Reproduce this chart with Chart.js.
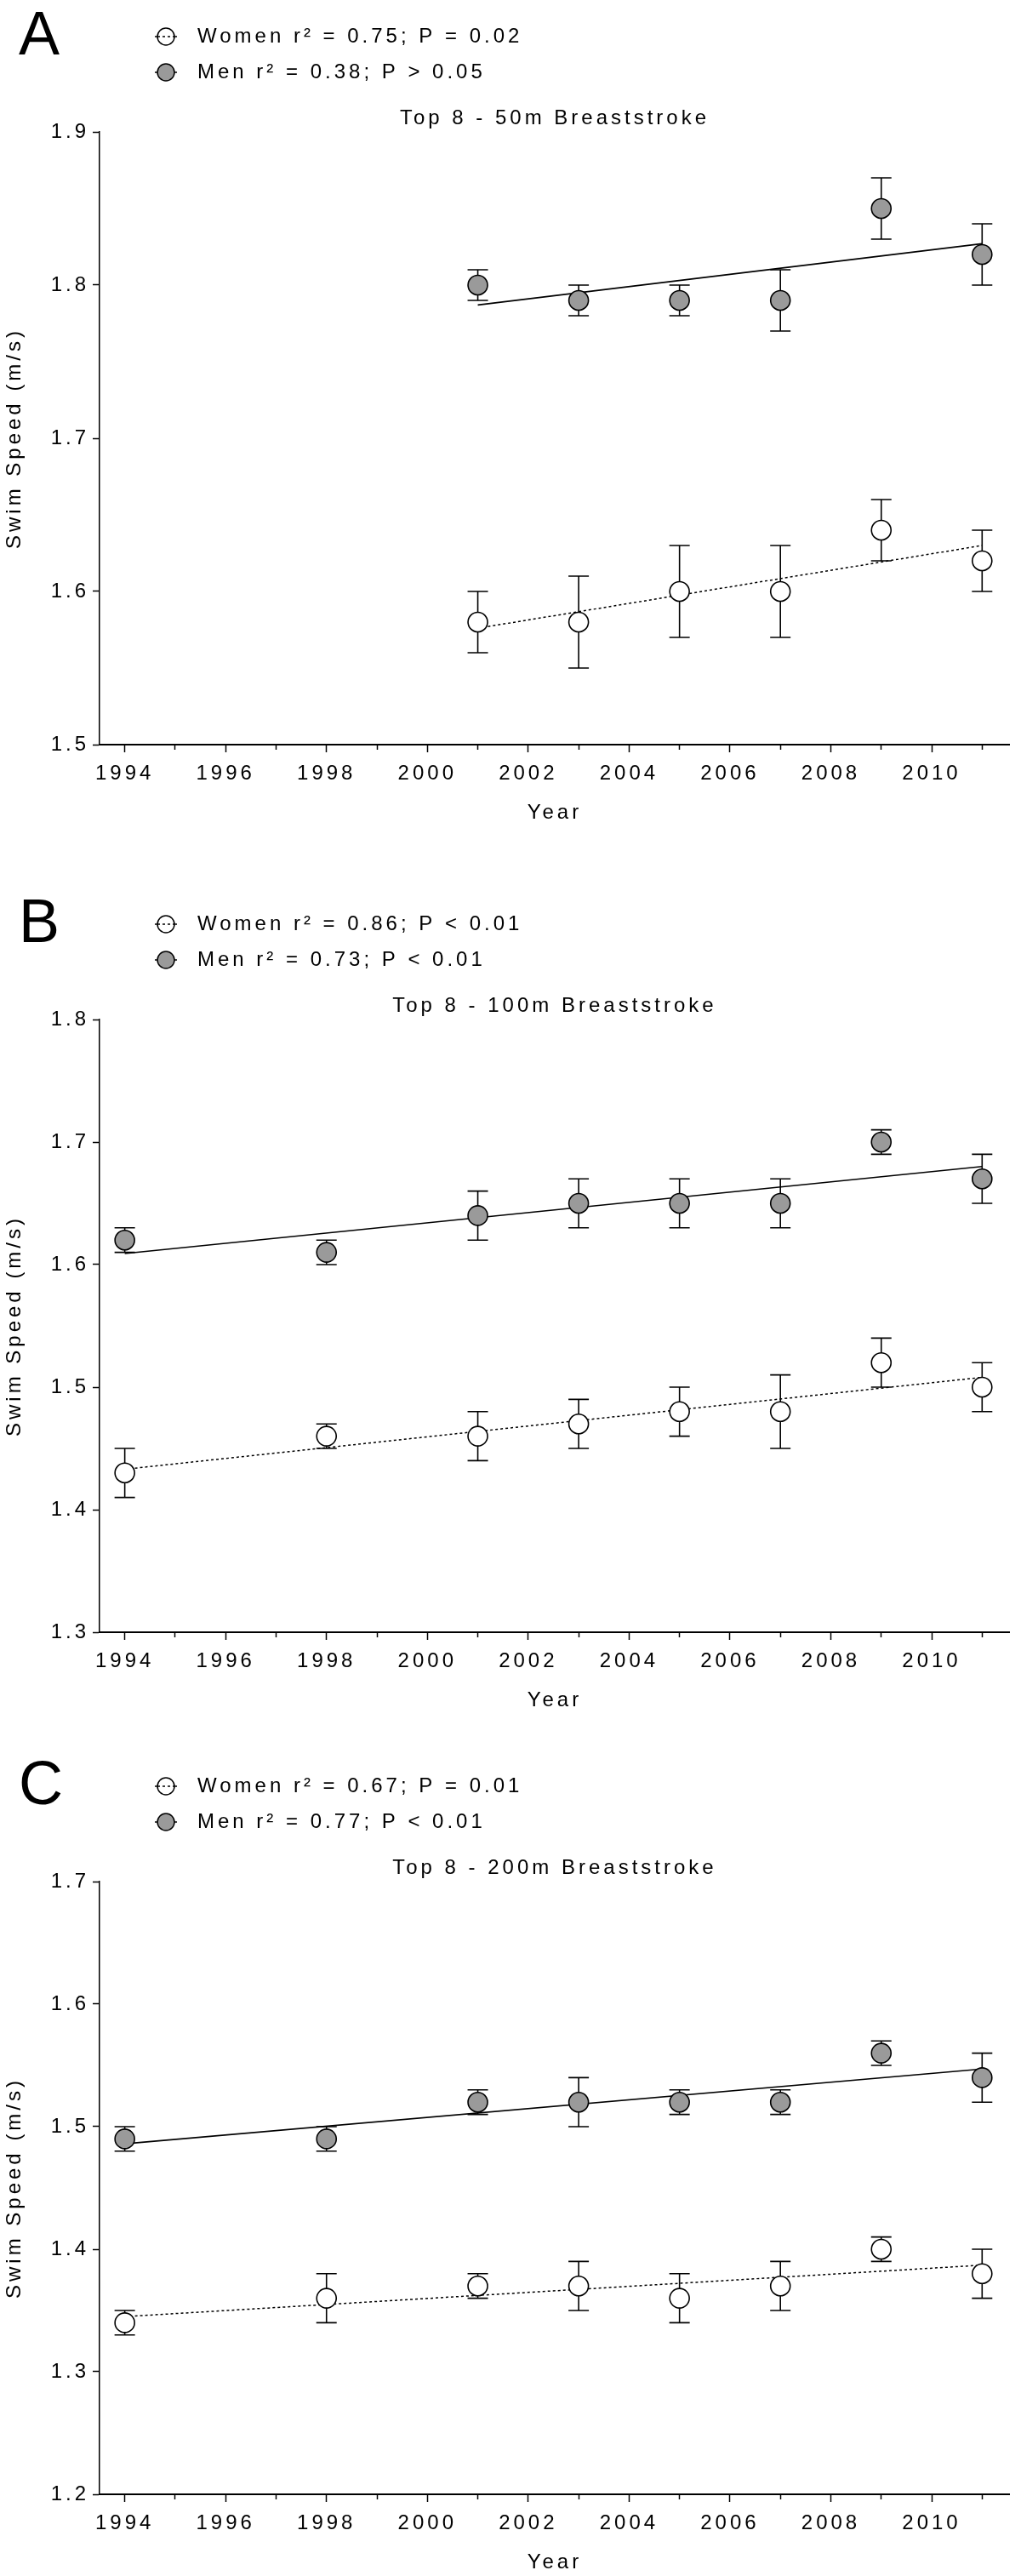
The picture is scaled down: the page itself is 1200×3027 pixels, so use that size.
<!DOCTYPE html>
<html>
<head>
<meta charset="utf-8">
<script src="https://cdn.jsdelivr.net/npm/chart.js@4.4.1/dist/chart.umd.min.js"></script>
<style>
html,body{margin:0;padding:0;background:#fff;}
#wrap{position:relative;width:1200px;height:3027px;background:#fff;}
canvas{position:absolute;left:0;}
</style>
</head>
<body>
<div id="wrap">
<canvas id="cA" width="1200" height="1015" style="top:0px"></canvas>
<canvas id="cB" width="1200" height="1015" style="top:1015px"></canvas>
<canvas id="cC" width="1200" height="997" style="top:2030px"></canvas>
</div>
<script>
// ---------- data ----------
const xTickYears = [1994,1995,1996,1997,1998,1999,2000,2001,2002,2003,2004,2005,2006,2007,2008,2009,2010,2011];

// Panel A: 50m breaststroke
const yearsA = [2001, 2003, 2005, 2007, 2009, 2011];
const menA = [1.80, 1.79, 1.79, 1.79, 1.85, 1.82];
const menSdA = [0.01, 0.01, 0.01, 0.02, 0.02, 0.02];
const womenA = [1.58, 1.58, 1.60, 1.60, 1.64, 1.62];
const womenSdA = [0.02, 0.03, 0.03, 0.03, 0.02, 0.02];
const menFitYearsA = [2001, 2011];
const menFitA = [1.787, 1.827];
const womenFitYearsA = [2001, 2011];
const womenFitA = [1.576, 1.630];
const yTicksA = [1.5, 1.6, 1.7, 1.8, 1.9];
const legendA = ['Women r\u00B2 = 0.75; P = 0.02', 'Men r\u00B2 = 0.38; P > 0.05'];

// Panel B: 100m breaststroke
const yearsB = [1994, 1998, 2001, 2003, 2005, 2007, 2009, 2011];
const menB = [1.62, 1.61, 1.64, 1.65, 1.65, 1.65, 1.70, 1.67];
const menSdB = [0.01, 0.01, 0.02, 0.02, 0.02, 0.02, 0.01, 0.02];
const womenB = [1.43, 1.46, 1.46, 1.47, 1.48, 1.48, 1.52, 1.50];
const womenSdB = [0.02, 0.01, 0.02, 0.02, 0.02, 0.03, 0.02, 0.02];
const menFitYearsB = [1994, 2011];
const menFitB = [1.609, 1.680];
const womenFitYearsB = [1994, 2011];
const womenFitB = [1.433, 1.508];
const yTicksB = [1.3, 1.4, 1.5, 1.6, 1.7, 1.8];
const legendB = ['Women r\u00B2 = 0.86; P < 0.01', 'Men r\u00B2 = 0.73; P < 0.01'];

// Panel C: 200m breaststroke
const yearsC = [1994, 1998, 2001, 2003, 2005, 2007, 2009, 2011];
const menC = [1.49, 1.49, 1.52, 1.52, 1.52, 1.52, 1.56, 1.54];
const menSdC = [0.01, 0.01, 0.01, 0.02, 0.01, 0.01, 0.01, 0.02];
const womenC = [1.34, 1.36, 1.37, 1.37, 1.36, 1.37, 1.40, 1.38];
const womenSdC = [0.01, 0.02, 0.01, 0.02, 0.02, 0.02, 0.01, 0.02];
const menFitYearsC = [1994, 2011];
const menFitC = [1.486, 1.547];
const womenFitYearsC = [1994, 2011];
const womenFitC = [1.345, 1.387];
const yTicksC = [1.2, 1.3, 1.4, 1.5, 1.6, 1.7];
const legendC = ['Women r\u00B2 = 0.67; P = 0.01', 'Men r\u00B2 = 0.77; P < 0.01'];

const panelLetters = ['A', 'B', 'C'];
const panelTitles = ['Top 8 - 50m Breaststroke', 'Top 8 - 100m Breaststroke', 'Top 8 - 200m Breaststroke'];
const xAxisTitle = 'Year';
const yAxisTitle = 'Swim Speed (m/s)';

// ---------- styling / plugins ----------
const FONT = "'Liberation Sans', Arial, Helvetica, sans-serif";
const FS = 24;
const LS = '4px';
const MEN_FILL = '#9a9a9a';

const spacingPlugin = {
  id: 'spacing',
  beforeUpdate(c) { c.ctx.letterSpacing = LS; },
  beforeLayout(c) { c.ctx.letterSpacing = LS; },
  beforeDraw(c) { c.ctx.letterSpacing = LS; }
};

const errorBarPlugin = {
  id: 'errorBars',
  beforeDatasetsDraw(chart) {
    const ctx = chart.ctx, x = chart.scales.x, y = chart.scales.y;
    ctx.save();
    ctx.strokeStyle = '#000';
    ctx.lineWidth = 1.6;
    chart.data.datasets.forEach(ds => {
      if (!ds.sd) return;
      ds.data.forEach((p, j) => {
        const px = x.getPixelForValue(p.x);
        const yl = y.getPixelForValue(p.y - ds.sd[j]);
        const yh = y.getPixelForValue(p.y + ds.sd[j]);
        ctx.beginPath();
        ctx.moveTo(px, yl); ctx.lineTo(px, yh);
        ctx.moveTo(px - 12, yl); ctx.lineTo(px + 12, yl);
        ctx.moveTo(px - 12, yh); ctx.lineTo(px + 12, yh);
        ctx.stroke();
      });
    });
    ctx.restore();
  }
};

const panelDecor = {
  id: 'panelDecor',
  afterDraw(chart, args, opts) {
    const ctx = chart.ctx;
    const top = chart.chartArea.top;
    ctx.save();
    ctx.letterSpacing = '0px';
    ctx.fillStyle = '#000';
    ctx.font = '72px ' + FONT;
    ctx.textAlign = 'left';
    ctx.textBaseline = 'alphabetic';
    ctx.fillText(opts.letter, 22, top - 91);
    opts.entries.forEach((e, i) => {
      const cy = top + (i === 0 ? -112 : -70);
      ctx.lineWidth = 1.5;
      ctx.strokeStyle = '#000';
      ctx.setLineDash([]);
      ctx.beginPath(); ctx.moveTo(182, cy); ctx.lineTo(208, cy); ctx.stroke();
      ctx.beginPath(); ctx.arc(195, cy, 10, 0, Math.PI * 2);
      ctx.fillStyle = e.fill; ctx.fill(); ctx.stroke();
      if (e.dash.length) {
        ctx.setLineDash(e.dash);
        ctx.beginPath(); ctx.moveTo(185, cy); ctx.lineTo(205, cy); ctx.stroke();
        ctx.setLineDash([]);
      }
      ctx.letterSpacing = LS;
      ctx.font = FS + 'px ' + FONT;
      ctx.textBaseline = 'middle';
      ctx.fillStyle = '#000';
      ctx.fillText(e.text, 232, cy);
      ctx.letterSpacing = '0px';
    });
    ctx.restore();
  }
};

function pts(xs, ys) { return xs.map((v, i) => ({ x: v, y: ys[i] })); }

function buildPanel(id, p) {
  const canvas = document.getElementById(id);
  const H = canvas.height;
  const axisH = H - p.chartBottom;
  const lh = FS * 1.2;
  return new Chart(canvas, {
    type: 'scatter',
    data: {
      datasets: [
        { label: 'Women', data: pts(p.years, p.women), sd: p.womenSd, showLine: false,
          pointRadius: 11.5, pointHoverRadius: 11.5, pointBackgroundColor: '#fff',
          pointBorderColor: '#000', pointBorderWidth: 1.6, order: 1 },
        { label: 'Men', data: pts(p.years, p.men), sd: p.menSd, showLine: false,
          pointRadius: 11.5, pointHoverRadius: 11.5, pointBackgroundColor: MEN_FILL,
          pointBorderColor: '#000', pointBorderWidth: 1.6, order: 1 },
        { label: 'Women fit', data: pts(p.womenFitYears, p.womenFit), showLine: true,
          borderColor: '#000', borderWidth: 1.5, borderDash: [3, 3], pointRadius: 0, order: 2 },
        { label: 'Men fit', data: pts(p.menFitYears, p.menFit), showLine: true,
          borderColor: '#000', borderWidth: 1.6, pointRadius: 0, order: 2 }
      ]
    },
    options: {
      responsive: false,
      animation: false,
      events: [],
      layout: { padding: 0 },
      plugins: {
        legend: { display: false },
        tooltip: { enabled: false },
        title: {
          display: true, text: p.title, fullSize: false, color: '#000',
          font: { family: FONT, size: FS, weight: 'normal', lineHeight: 1.2 },
          padding: { top: p.chartTop - 16 - lh / 2, bottom: 16 - lh / 2 }
        },
        panelDecor: { letter: p.letter, entries: [
          { text: p.legend[0], fill: '#fff', dash: [3, 3] },
          { text: p.legend[1], fill: MEN_FILL, dash: [] }
        ] }
      },
      scales: {
        x: {
          type: 'linear', min: 1993.5, max: 2011.55,
          afterBuildTicks: a => { a.ticks = xTickYears.map(v => ({ value: v })); },
          afterFit: s => { s.height = axisH; },
          grid: { drawOnChartArea: false, drawTicks: true, tickLength: 9, tickColor: '#000', tickWidth: 1.5,
                  tickBorderDash: c => (c.tick && c.tick.value % 2) ? [5, 50] : [] },
          border: { display: true, color: '#000', width: 2 },
          ticks: { autoSkip: false, maxRotation: 0, minRotation: 0, padding: 11, color: '#000',
                   font: { family: FONT, size: FS },
                   callback: v => (v % 2 === 0 ? String(v) : '') },
          title: { display: true, text: xAxisTitle, color: '#000',
                   font: { family: FONT, size: FS, lineHeight: 1.2 },
                   padding: { top: 0, bottom: axisH - 80 - lh / 2 } }
        },
        y: {
          min: p.yTicks[0], max: p.yTicks[p.yTicks.length - 1],
          afterBuildTicks: a => { a.ticks = p.yTicks.map(v => ({ value: v })); },
          afterFit: s => { s.width = 117; },
          grid: { drawOnChartArea: false, drawTicks: true, tickLength: 8, tickColor: '#000', tickWidth: 1.5 },
          border: { display: true, color: '#000', width: 1.5 },
          ticks: { padding: 4, color: '#000', font: { family: FONT, size: FS },
                   callback: v => Number(v).toFixed(1) },
          title: { display: true, text: yAxisTitle, color: '#000',
                   font: { family: FONT, size: FS, lineHeight: 1.2 },
                   padding: { top: 17 - lh / 2, bottom: 0 } }
        }
      }
    },
    plugins: [spacingPlugin, errorBarPlugin, panelDecor]
  });
}

buildPanel('cA', { letter: panelLetters[0], title: panelTitles[0], legend: legendA,
  years: yearsA, men: menA, menSd: menSdA, women: womenA, womenSd: womenSdA,
  menFitYears: menFitYearsA, menFit: menFitA, womenFitYears: womenFitYearsA, womenFit: womenFitA,
  yTicks: yTicksA, chartTop: 155, chartBottom: 875 });

buildPanel('cB', { letter: panelLetters[1], title: panelTitles[1], legend: legendB,
  years: yearsB, men: menB, menSd: menSdB, women: womenB, womenSd: womenSdB,
  menFitYears: menFitYearsB, menFit: menFitB, womenFitYears: womenFitYearsB, womenFit: womenFitB,
  yTicks: yTicksB, chartTop: 183, chartBottom: 903 });

buildPanel('cC', { letter: panelLetters[2], title: panelTitles[2], legend: legendC,
  years: yearsC, men: menC, menSd: menSdC, women: womenC, womenSd: womenSdC,
  menFitYears: menFitYearsC, menFit: menFitC, womenFitYears: womenFitYearsC, womenFit: womenFitC,
  yTicks: yTicksC, chartTop: 181, chartBottom: 901 });
</script>
</body>
</html>
